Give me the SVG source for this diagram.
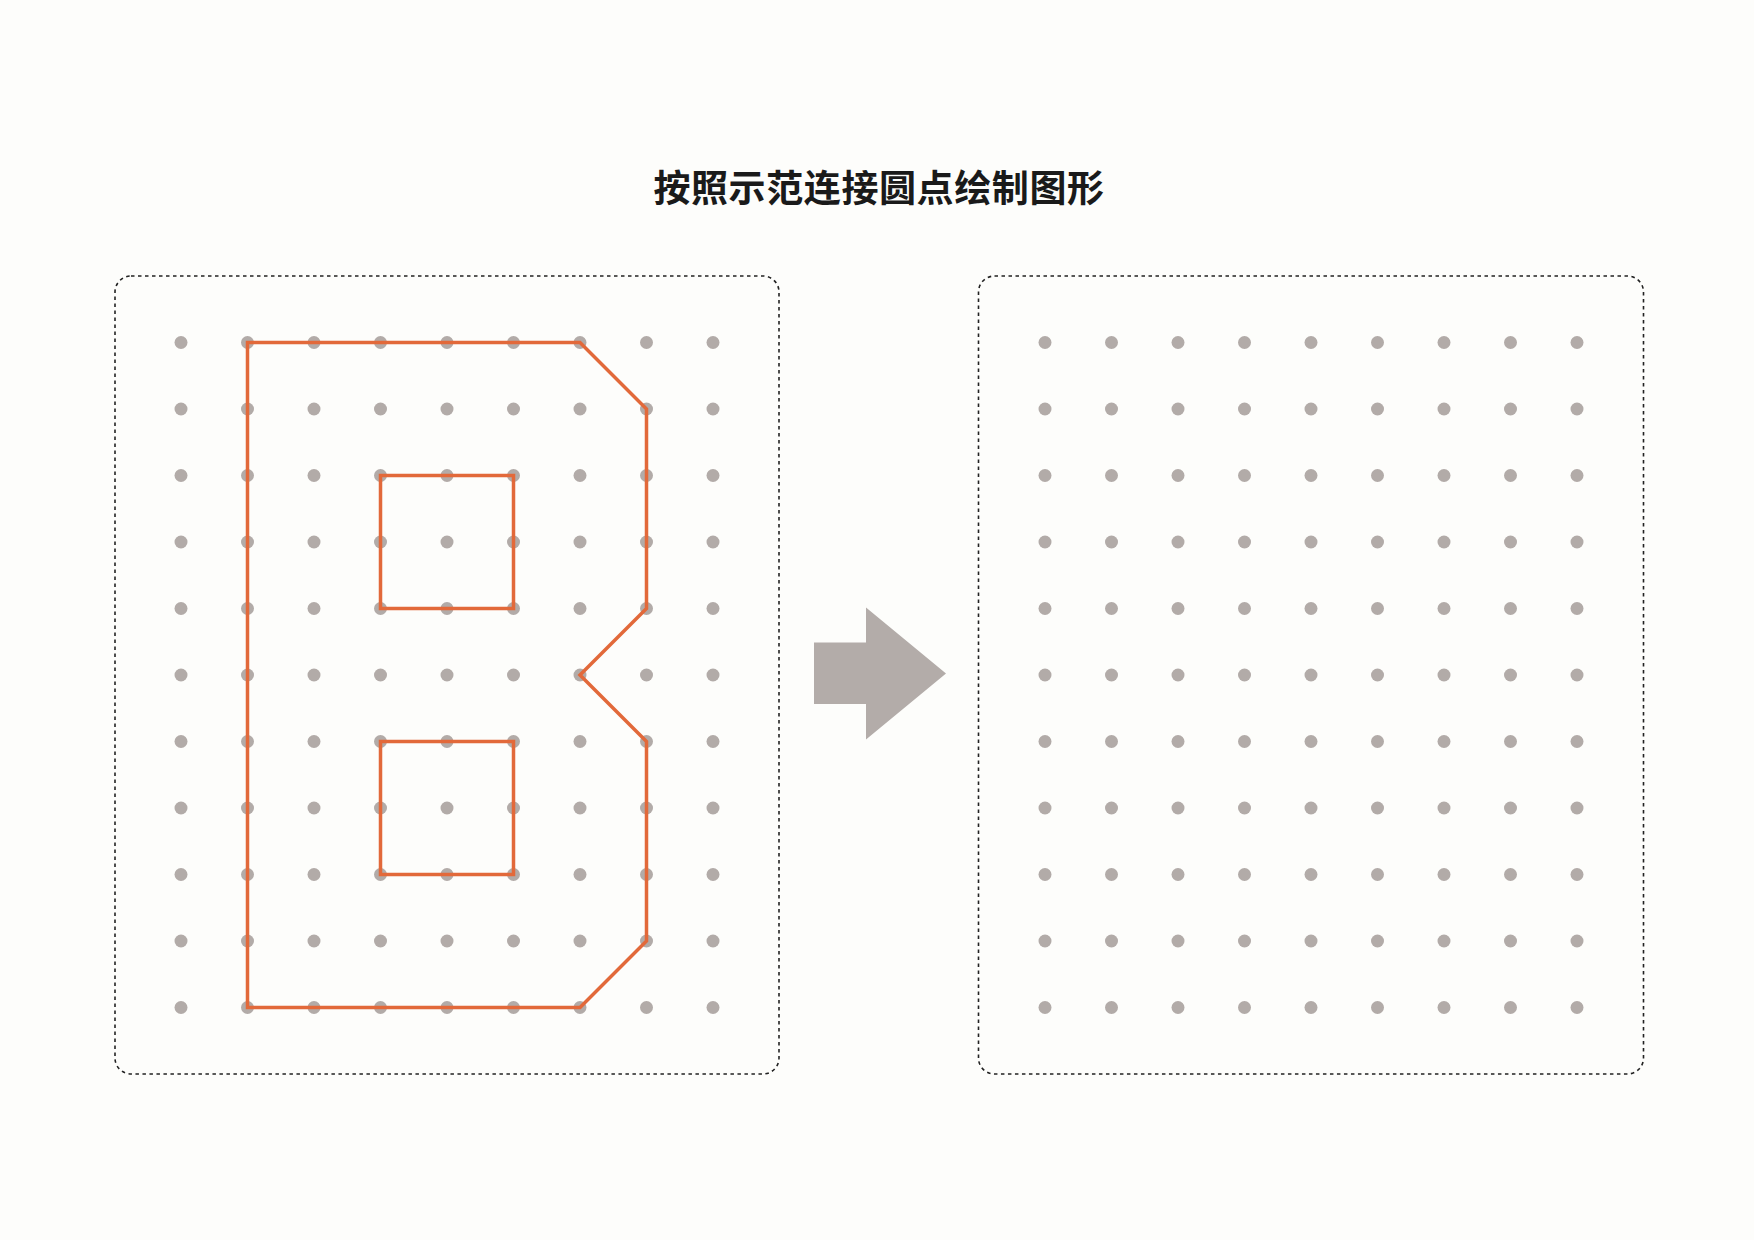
<svg xmlns="http://www.w3.org/2000/svg" xmlns:xlink="http://www.w3.org/1999/xlink" width="1754" height="1240" viewBox="0 0 1754 1240">
<style>
.panel{fill:none;stroke:#222;stroke-width:1.6;stroke-dasharray:3.5 3.5}
.dot{fill:#b2aba8}
.shape{fill:none;stroke:#e2693a;stroke-width:3.5;stroke-linejoin:miter}
.title{font-family:"Noto Sans CJK SC","Noto Sans",sans-serif;font-size:37px;font-weight:bold;fill:#1a1a1a;letter-spacing:0.6px}
</style>
<defs>
<g id="row">
<circle class="dot" cx="0" cy="0" r="6.5"/>
<circle class="dot" cx="66.5" cy="0" r="6.5"/>
<circle class="dot" cx="133" cy="0" r="6.5"/>
<circle class="dot" cx="199.5" cy="0" r="6.5"/>
<circle class="dot" cx="266" cy="0" r="6.5"/>
<circle class="dot" cx="332.5" cy="0" r="6.5"/>
<circle class="dot" cx="399" cy="0" r="6.5"/>
<circle class="dot" cx="465.5" cy="0" r="6.5"/>
<circle class="dot" cx="532" cy="0" r="6.5"/>
</g>
<g id="grid">
<use xlink:href="#row" y="0"/>
<use xlink:href="#row" y="66.5"/>
<use xlink:href="#row" y="133"/>
<use xlink:href="#row" y="199.5"/>
<use xlink:href="#row" y="266"/>
<use xlink:href="#row" y="332.5"/>
<use xlink:href="#row" y="399"/>
<use xlink:href="#row" y="465.5"/>
<use xlink:href="#row" y="532"/>
<use xlink:href="#row" y="598.5"/>
<use xlink:href="#row" y="665"/>
</g>
</defs>
<rect width="1754" height="1240" fill="#fdfdfb"/>
<text class="title" x="879" y="202" text-anchor="middle">按照示范连接圆点绘制图形</text>
<g id="panel-example">
<rect class="panel" x="115" y="276" width="664" height="798" rx="16"/>
<use xlink:href="#grid" x="181" y="342.5"/>
</g>
<g id="panel-practice">
<rect class="panel" x="978.5" y="276" width="665" height="798" rx="16"/>
<use xlink:href="#grid" x="1045" y="342.5"/>
</g>
<g id="connectors">
<path class="shape" d="M247.5,342.5 H580 L646.5,409 V608.5 L580,675 L646.5,741.5 V941 L580,1007.5 H247.5 Z"/>
<rect class="shape" x="380.5" y="475.5" width="133" height="133"/>
<rect class="shape" x="380.5" y="741.5" width="133" height="133"/>
</g>
<g id="arrow">
<polygon points="814,642.5 866,642.5 866,607.5 946,673.5 866,739.5 866,704 814,704" fill="#b3aca9"/>
</g>
</svg>
